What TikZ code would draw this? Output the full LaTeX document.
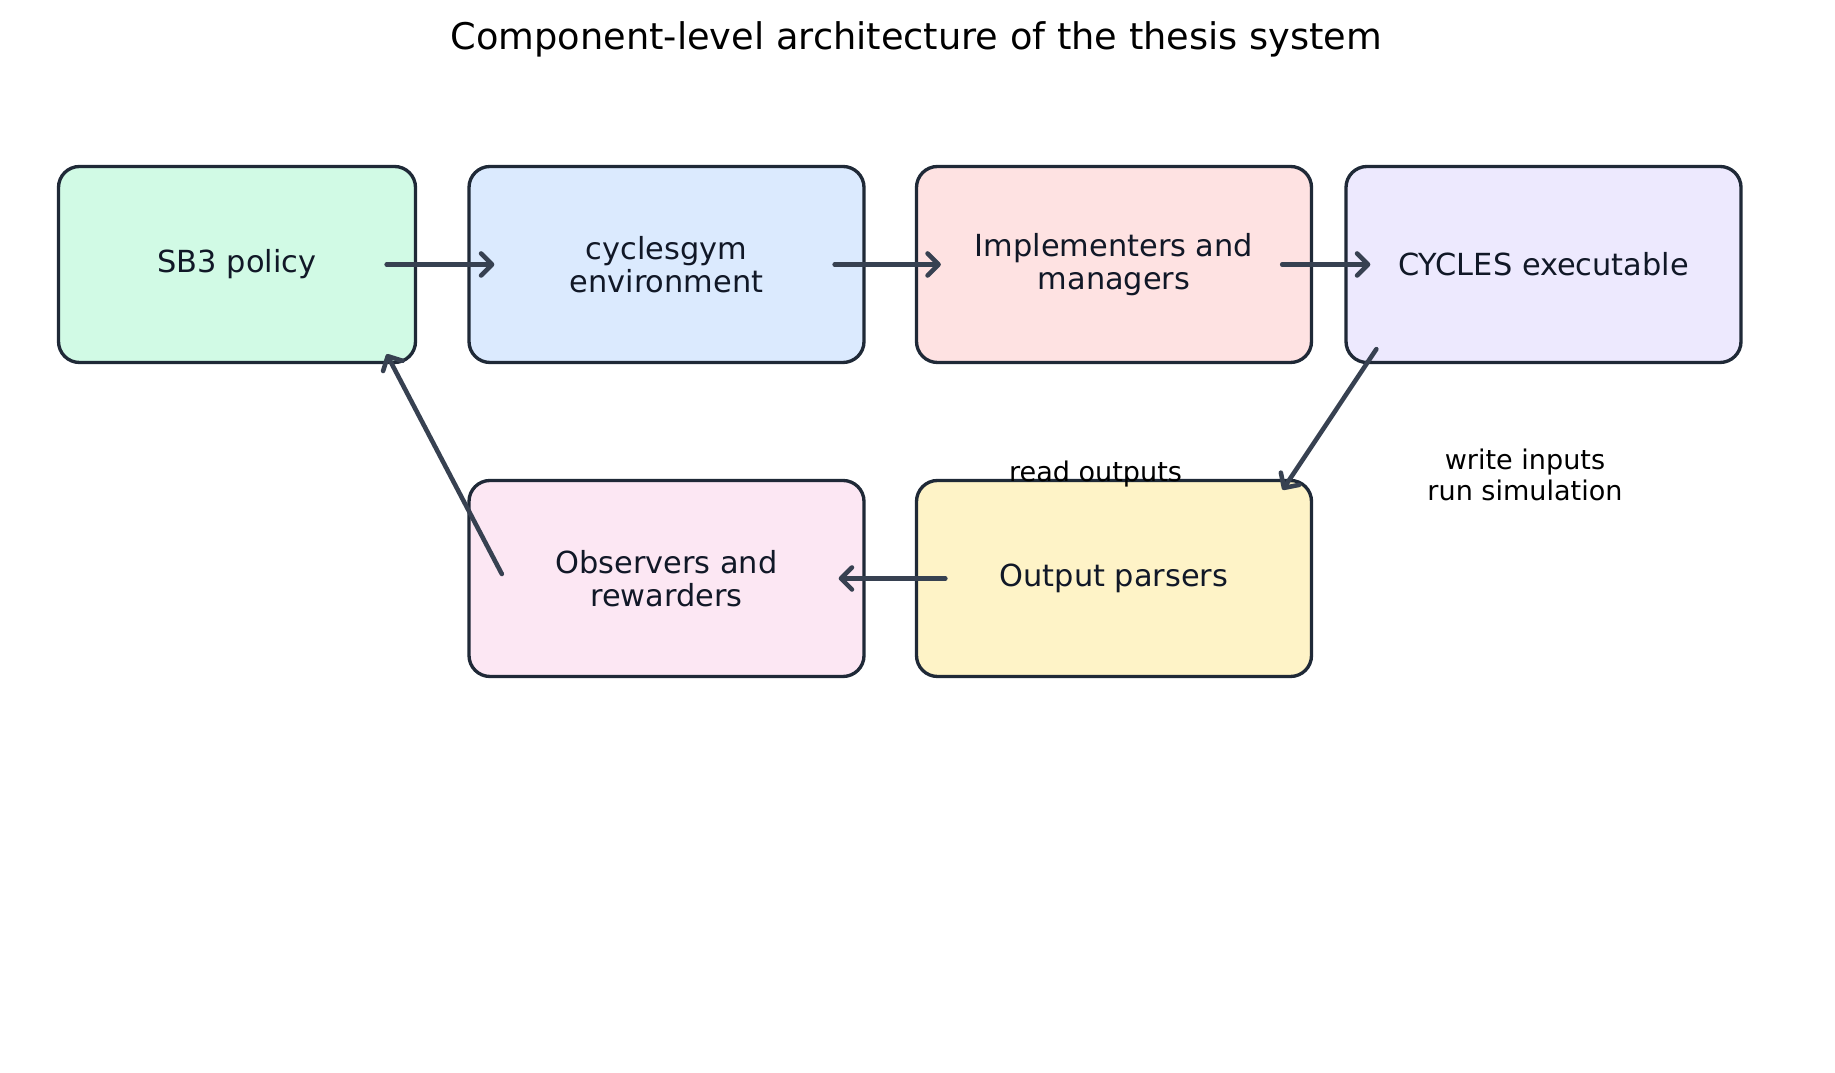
\documentclass[tikz,border=0pt]{standalone}
\usepackage{fontspec}
\setmainfont{DejaVu Sans}
\usepackage{tikz}
\usetikzlibrary{arrows.meta,calc}
\usepackage{xcolor}
\definecolor{edgeink}{HTML}{1F2937}
\definecolor{arrowink}{HTML}{374151}
\definecolor{textink}{HTML}{111827}
\definecolor{mintfill}{HTML}{D1FAE5}
\definecolor{skyfill}{HTML}{DBEAFE}
\definecolor{rosefill}{HTML}{FEE2E2}
\definecolor{lilacfill}{HTML}{EDE9FE}
\definecolor{pinkfill}{HTML}{FCE7F3}
\definecolor{sandfill}{HTML}{FEF3C7}
\tikzset{
  comp/.style={draw=edgeink,line width=1.9pt,rounded corners=0.42cm,minimum width=7.9cm,minimum height=3.92cm,inner sep=0pt,align=center,text=textink,font=\fontsize{17.3}{18.8}\selectfont},
  flow/.style={draw=arrowink,line width=2.6pt,line cap=round,-{Straight Barb[length=0.22cm,width=0.44cm,line cap=round,line join=round]}},
  note/.style={align=center,text=black,font=\fontsize{15.4}{17.2}\selectfont},
}

\begin{document}
\begin{tikzpicture}
\useasboundingbox (0,0) rectangle (36.7,21.46);
\node[font=\fontsize{20.9}{24}\selectfont,text=black] (title) at (18.33,20.68) {Component-level architecture of the thesis system};
% top row
\node[comp,fill=mintfill,minimum width=7.14cm] (sb3) at (4.74,16.17) {SB3 policy};
\node[comp,fill=skyfill] (gym) at (13.33,16.17) {cyclesgym\\environment};
\node[comp,fill=rosefill] (impl) at (22.28,16.17) {Implementers and\\managers};
\node[comp,fill=lilacfill] (cyc) at (30.87,16.17) {CYCLES executable};
% bottom row
\node[comp,fill=pinkfill] (obs) at (13.33,9.89) {Observers and\\rewarders};
\node[comp,fill=sandfill] (outp) at (22.28,9.89) {Output parsers};
% labels
\node[note] (readlbl) at (21.91,11.98) {read outputs};
\node[note] (writelbl) at (30.5,11.96) {write inputs\\run simulation};
% arrows
\draw[flow] ($(sb3.east)+(-0.61,0)$) -- ($(gym.west)+(0.54,0)$);
\draw[flow] ($(gym.east)+(-0.62,0)$) -- ($(impl.west)+(0.52,0)$);
\draw[flow] ($(impl.east)+(-0.62,0)$) -- ($(cyc.west)+(0.52,0)$);
\draw[flow] ($(cyc.south west)+(0.64,0.30)$) -- ($(outp.north east)+(-0.61,-0.22)$);
\draw[flow] ($(outp.west)+(0.61,0)$) -- ($(obs.east)+(-0.54,0)$);
\draw[flow] ($(obs.west)+(0.69,0.09)$) -- ($(sb3.south east)+(-0.61,0.2)$);
\end{tikzpicture}
\end{document}
